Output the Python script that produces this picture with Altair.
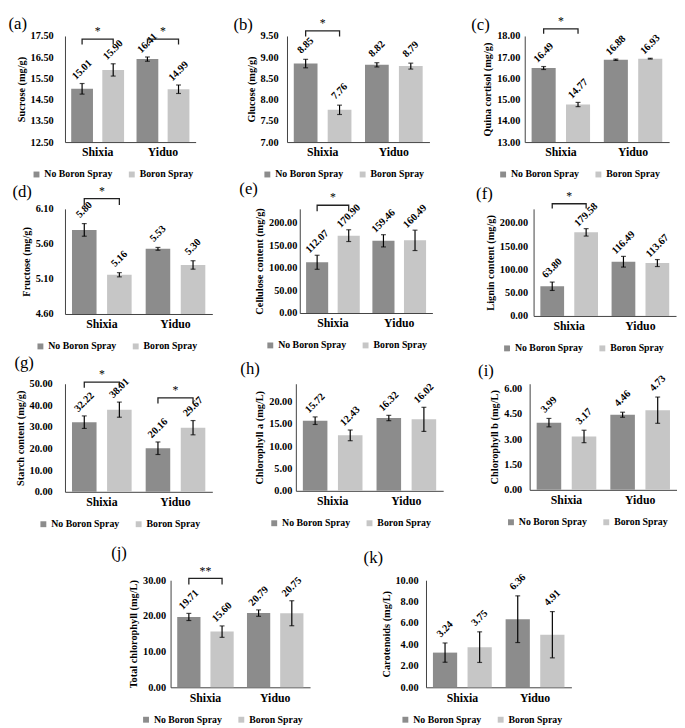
import altair as alt
import pandas as pd

FONT = "Liberation Serif"
DARK = "#8C8C8C"
LIGHT = "#C6C6C6"

cultivars = ["Shixia", "Yiduo"]
treatments = ["No Boron Spray", "Boron Spray"]

# value order: Shixia-No, Shixia-Boron, Yiduo-No, Yiduo-Boron
sucrose_mean = [15.01, 15.90, 16.41, 14.99]
sucrose_err = [0.25, 0.29, 0.10, 0.20]
glucose_mean = [8.85, 7.76, 8.82, 8.79]
glucose_err = [0.10, 0.11, 0.05, 0.07]
quinic_mean = [16.49, 14.77, 16.88, 16.93]
quinic_err = [0.07, 0.10, 0.03, 0.02]
fructose_mean = [5.80, 5.16, 5.53, 5.30]
fructose_err = [0.09, 0.03, 0.02, 0.06]
cellulose_mean = [112.07, 170.90, 159.46, 160.49]
cellulose_err = [15.5, 13.0, 13.5, 22.5]
lignin_mean = [63.80, 179.58, 116.49, 113.67]
lignin_err = [9.0, 8.0, 11.5, 7.5]
starch_mean = [32.22, 38.01, 20.16, 29.67]
starch_err = [2.9, 3.5, 2.9, 3.3]
chla_mean = [15.72, 12.43, 16.32, 16.02]
chla_err = [0.85, 1.2, 0.6, 2.7]
chlb_mean = [3.99, 3.17, 4.46, 4.73]
chlb_err = [0.25, 0.37, 0.15, 0.78]
totchl_mean = [19.71, 15.60, 20.79, 20.75]
totchl_err = [1.0, 1.6, 0.9, 3.5]
carot_mean = [3.24, 3.75, 6.36, 4.91]
carot_err = [0.9, 1.43, 2.18, 2.16]

# y-axis tick labels
sucrose_ticks = [12.5, 13.5, 14.5, 15.5, 16.5, 17.5]
glucose_ticks = [7.0, 7.5, 8.0, 8.5, 9.0, 9.5]
quinic_ticks = [13.0, 14.0, 15.0, 16.0, 17.0, 18.0]
fructose_ticks = [4.6, 5.1, 5.6, 6.1]
cellulose_ticks = [0, 50, 100, 150, 200]
lignin_ticks = [0, 50, 100, 150, 200]
starch_ticks = [0, 10, 20, 30, 40, 50]
chla_ticks = [0, 5, 10, 15, 20]
chlb_ticks = [0, 1.5, 3.0, 4.5, 6.0]
totchl_ticks = [0, 10, 20, 30]
carot_ticks = [0, 2, 4, 6, 8, 10]

# significance brackets: (cultivar, bracket level, drop of the ends, stars)
sucrose_sig = [("Shixia", 17.35, 0.25, "*"), ("Yiduo", 17.35, 0.25, "*")]
glucose_sig = [("Shixia", 9.62, 0.13, "*")]
quinic_sig = [("Shixia", 18.34, 0.24, "*")]
fructose_sig = [("Shixia", 6.245, 0.09, "*")]
cellulose_sig = [("Shixia", 238, 13, "*")]
lignin_sig = [("Shixia", 241, 10, "*")]
starch_sig = [("Shixia", 50.8, 2.6, "*"), ("Yiduo", 43.5, 2.6, "*")]
totchl_sig = [("Shixia", 30.5, 1.7, "**")]


def panel(tag, ytitle, mean, err, domain, ticks, sig, width, height,
          legend_x, label_pad, tag_x, tag_y):
    df = pd.DataFrame({
        "cultivar": [c for c in cultivars for _ in treatments],
        "treatment": treatments * len(cultivars),
        "mean": mean,
        "err": err,
    })
    yscale = alt.Scale(domain=domain, nice=False, zero=False)
    yaxis = alt.Axis(values=ticks, format=".2f", title=ytitle, grid=False,
                     ticks=False, labelPadding=label_pad, titlePadding=4,
                     labelFontSize=10.5, titleFontSize=10.5,
                     domainColor="#404040", labelColor="black",
                     titleColor="black")
    xscale = alt.Scale(paddingInner=0, paddingOuter=0)
    x_bottom = alt.X("cultivar:N", sort=cultivars, scale=xscale,
                     axis=alt.Axis(title=None, labelAngle=0, labelFontSize=12,
                                   ticks=False, labelPadding=5,
                                   domainColor="#404040", labelColor="black"))
    x_top = alt.X("cultivar:N", sort=cultivars, scale=xscale,
                  axis=alt.Axis(orient="top", title=tag, labels=False,
                                ticks=False, domain=False, grid=False,
                                titleX=tag_x, titleY=tag_y, titleAngle=0,
                                titleAlign="left", titleBaseline="middle",
                                titleFont=FONT, titleFontSize=17,
                                titleFontWeight="normal", titleColor="black"))
    x = alt.X("cultivar:N", sort=cultivars, scale=xscale, axis=None)
    xo = alt.XOffset("treatment:N", sort=treatments,
                     scale=alt.Scale(paddingInner=0.3, paddingOuter=0.2))

    base = alt.Chart(df).transform_calculate(
        lo="datum.mean - datum.err", hi="datum.mean + datum.err")

    bars = base.mark_bar().encode(
        x=x_bottom, xOffset=xo,
        y=alt.Y("mean:Q", scale=yscale, axis=yaxis),
        y2=alt.datum(domain[0]),
        color=alt.Color("treatment:N", sort=treatments,
                        scale=alt.Scale(domain=treatments, range=[DARK, LIGHT]),
                        legend=alt.Legend(title=None, orient="none",
                                          legendX=legend_x,
                                          legendY=height + 28,
                                          direction="horizontal",
                                          symbolType="square", symbolSize=36,
                                          symbolStrokeWidth=0,
                                          labelFont=FONT, labelFontSize=10,
                                          labelFontWeight="bold",
                                          labelColor="black",
                                          labelOffset=3, columnPadding=14)),
    )
    whisk = base.mark_rule(color="black", strokeWidth=1.2).encode(
        x=x, xOffset=xo,
        y=alt.Y("lo:Q", scale=yscale, axis=yaxis), y2="hi:Q")
    cap_hi = base.mark_tick(color="black", thickness=1.2, size=5).encode(
        x=x, xOffset=xo, y=alt.Y("hi:Q", scale=yscale, axis=yaxis))
    cap_lo = base.mark_tick(color="black", thickness=1.2, size=5).encode(
        x=x, xOffset=xo, y=alt.Y("lo:Q", scale=yscale, axis=yaxis))
    labels = base.mark_text(angle=315, font=FONT, fontSize=10.5,
                            fontWeight="bold", color="black",
                            align="center", baseline="middle",
                            yOffset=-14).encode(
        x=x_top, xOffset=xo, y=alt.Y("hi:Q", scale=yscale, axis=yaxis),
        text=alt.Text("mean:Q", format=".2f"))

    layers = [bars, whisk, cap_hi, cap_lo, labels]

    if sig:
        rows = []
        for k, (cult, level, drop, stars) in enumerate(sig):
            rows += [
                {"cultivar": cult, "treatment": treatments[0], "y": level - drop, "o": 0, "id": k, "s": stars},
                {"cultivar": cult, "treatment": treatments[0], "y": level, "o": 1, "id": k, "s": stars},
                {"cultivar": cult, "treatment": treatments[1], "y": level, "o": 2, "id": k, "s": stars},
                {"cultivar": cult, "treatment": treatments[1], "y": level - drop, "o": 3, "id": k, "s": stars},
            ]
        sdf = pd.DataFrame(rows)
        bracket = alt.Chart(sdf).mark_line(color="#222222", strokeWidth=1.3).encode(
            x=x, xOffset=xo, y=alt.Y("y:Q", scale=yscale, axis=yaxis),
            detail="id:N", order="o:Q")
        star = alt.Chart(sdf).transform_filter("datum.o == 1").mark_text(
            font=FONT, fontSize=12, color="black", baseline="bottom",
            yOffset=-1).encode(
            x=x, y=alt.Y("y:Q", scale=yscale, axis=yaxis), text="s:N")
        layers += [bracket, star]

    return alt.layer(*layers).properties(
        width=width, height=height,
    ).resolve_scale(color="independent").resolve_axis(x="independent")


pa = panel("(a)", "Sucrose (mg/g)", sucrose_mean, sucrose_err, [12.5, 17.5], sucrose_ticks, sucrose_sig, 133, 108, -34, 12, -58, -13)
pb = panel("(b)", "Glucose (mg/g)", glucose_mean, glucose_err, [7.0, 9.5], glucose_ticks, glucose_sig, 145, 108, -25, 9, -55, -12)
pc = panel("(c)", "Quina cortisol (mg/g)", quinic_mean, quinic_err, [13.0, 18.0], quinic_ticks, quinic_sig, 147, 108, -27, 5, -55, -12)
pd_ = panel("(d)", "Fructose (mg/g)", fructose_mean, fructose_err, [4.6, 6.1], fructose_ticks, fructose_sig, 150, 107, -30, 12, -54, -18)
pe = panel("(e)", "Cellulose content (mg/g)", cellulose_mean, cellulose_err, [0, 230], cellulose_ticks, cellulose_sig, 135, 106, -35, 3, -62, -21)
pf = panel("(f)", "Lignin content (mg/g)", lignin_mean, lignin_err, [0, 230], lignin_ticks, lignin_sig, 145, 109, -32, 6, -59, -16)
pg = panel("(g)", "Starch content (mg/g)", starch_mean, starch_err, [0, 50], starch_ticks, starch_sig, 150, 110, -27, 13, -52, -22)
ph = panel("(h)", "Chlorophyll a (mg/L)", chla_mean, chla_err, [0, 24], chla_ticks, [], 150, 109, -27, 4, -57, -15)
pi = panel("(i)", "Chlorophyll b (mg/L)", chlb_mean, chlb_err, [0, 6.3], chlb_ticks, [], 150, 108, -24, 8, -53, -13)
pj = panel("(j)", "Total chlorophyll (mg/L)", totchl_mean, totchl_err, [0, 30], totchl_ticks, totchl_sig, 142, 109, -30, 5, -61, -28)
pk = panel("(k)", "Carotenoids (mg/L)", carot_mean, carot_err, [0, 10], carot_ticks, [], 148, 109, -26, 8, -64, -23)

RES = dict(color="independent", xOffset="independent")


def row(p1, p2, p3=None, s1=40, s2=40):
    r = alt.hconcat(p1, p2, spacing=s1).resolve_scale(**RES)
    if p3 is not None:
        r = alt.hconcat(r, p3, spacing=s2).resolve_scale(**RES)
    return r


row1 = row(pa, pb, pc, 38, 42)
row2 = row(pd_, pe, pf, 27, 44)
row3 = row(pg, ph, pi, 28, 35)
row4 = row(pj, pk, s1=54)

r12 = alt.vconcat(row1, row2, spacing=0).resolve_scale(**RES)
r123 = alt.vconcat(r12, row3, spacing=0).resolve_scale(**RES)
chart = alt.vconcat(r123, row4, spacing=15, center=True).resolve_scale(**RES).properties(
    padding={"left": 0, "top": 0, "right": 0, "bottom": 0}
).configure_view(
    stroke=None
).configure_axis(
    labelFont=FONT, titleFont=FONT, labelFontWeight="bold", titleFontWeight="bold"
).configure_text(font=FONT)

chart.save("out.html", embed_options={"renderer": "svg", "actions": False})
